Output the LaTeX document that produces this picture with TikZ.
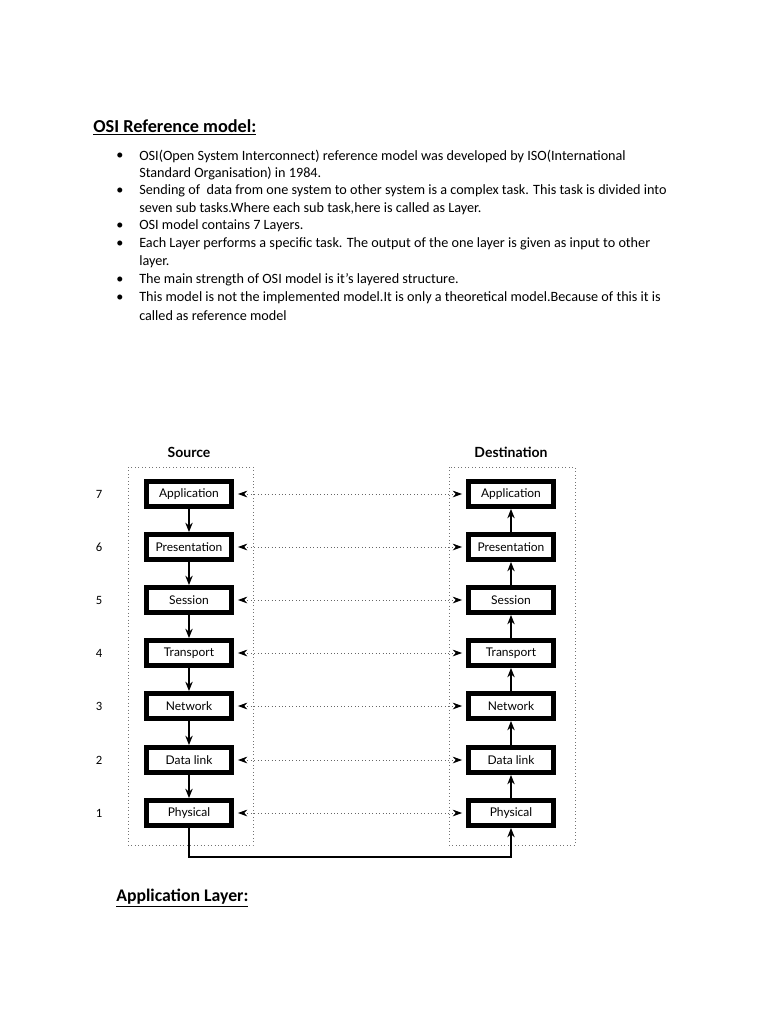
\documentclass[tikz,border=0pt]{standalone}
\usepackage{fontspec}
\setmainfont{Carlito}
\newfontfamily\boxfont{Lato}
\usetikzlibrary{arrows.meta}
\begin{document}
\begin{tikzpicture}[x=0.75pt,y=-0.75pt,
  layer/.style={draw=black,line width=3.4pt,minimum width=64pt,minimum height=19pt,inner sep=0pt,font=\boxfont\fontsize{9}{11}\selectfont},
  sysbox/.style={draw=black!55,dotted,line width=0.6pt},
  peer/.style={draw=black!60,dotted,line width=0.6pt,{Stealth[length=7pt,width=5pt,color=black,fill=black]}-{Stealth[length=7pt,width=5pt,color=black,fill=black]},shorten <=3pt,shorten >=3pt},
  flow/.style={draw=black,line width=1.1pt,-{Stealth[length=7pt,width=5.5pt]}},
  bodytext/.style={anchor=west,inner sep=0pt,font=\fontsize{10.65}{12}\selectfont},
  heading/.style={anchor=west,inner sep=0pt,font=\bfseries\fontsize{13.7}{15}\selectfont},
  heading2/.style={anchor=west,inner sep=0pt,font=\bfseries\fontsize{13.3}{15}\selectfont},
  lnum/.style={font=\fontsize{9.5}{11}\selectfont},
  colhead/.style={font=\boxfont\bfseries\fontsize{10.5}{12}\selectfont}]
\path (0,0) rectangle (768,1024);
% heading and bullets
\node[heading] (title) at (93,127) {\underline{OSI Reference model:}};
\foreach \y in {156,191,226,244,280,298}{\node[bodytext] at (116,\y) {•};}
\node[bodytext] (l1) at (139,156) {OSI(Open System Interconnect) reference model was developed by ISO(International};
\node[bodytext] (l2) at (139,173.5) {Standard Organisation) in 1984.};
\node[bodytext] (l3) at (139,191) {Sending of\ \ data from one system to other system is a complex task. This task is divided into};
\node[bodytext] (l4) at (139,208.5) {seven sub tasks.Where each sub task,here is called as Layer.};
\node[bodytext] (l5) at (139,226) {OSI model contains 7 Layers.};
\node[bodytext] (l6) at (139,244) {Each Layer performs a specific task. The output of the one layer is given as input to other};
\node[bodytext] (l7) at (139,262) {layer.};
\node[bodytext] (l8) at (139,280) {The main strength of OSI model is it’s layered structure.};
\node[bodytext] (l9) at (139,298) {This model is not the implemented model.It is only a theoretical model.Because of this it is};
\node[bodytext] (l10) at (139,316) {called as reference model};
% column headings and system boxes
\node[colhead] (src) at (189,452) {Source};
\node[colhead] (dst) at (511,452) {Destination};
\draw[sysbox] (128,467) rectangle (253,845);
\draw[sysbox] (449,467) rectangle (575,845);
% layers
\foreach \i/\name/\y in {7/Application/494,6/Presentation/547,5/Session/600,4/Transport/653,3/Network/706,2/Data link/760,1/Physical/813}{
  \node[lnum] (n\i) at (99,\y) {\i};
  \node[layer] (s\i) at (189,\y) {\name};
  \node[layer] (d\i) at (511,\y) {\name};
}
\foreach \i in {1,...,7}{
  \draw[peer] (s\i.east) -- (d\i.west);
}
\foreach \i/\j in {7/6,6/5,5/4,4/3,3/2,2/1}{
  \draw[flow] (s\i.south) -- (s\j.north);
  \draw[flow] (d\j.north) -- (d\i.south);
}
\coordinate (bl) at (189,857);
\coordinate (br) at (511,857);
\draw[draw=black,line width=1.1pt,-{Stealth[length=7pt,width=5.5pt]}] (s1.south) -- (bl) -- (br) -- (d1.south);
\node[heading2] (app) at (116,898) {\underline{Application Layer:}};
\end{tikzpicture}
\end{document}
